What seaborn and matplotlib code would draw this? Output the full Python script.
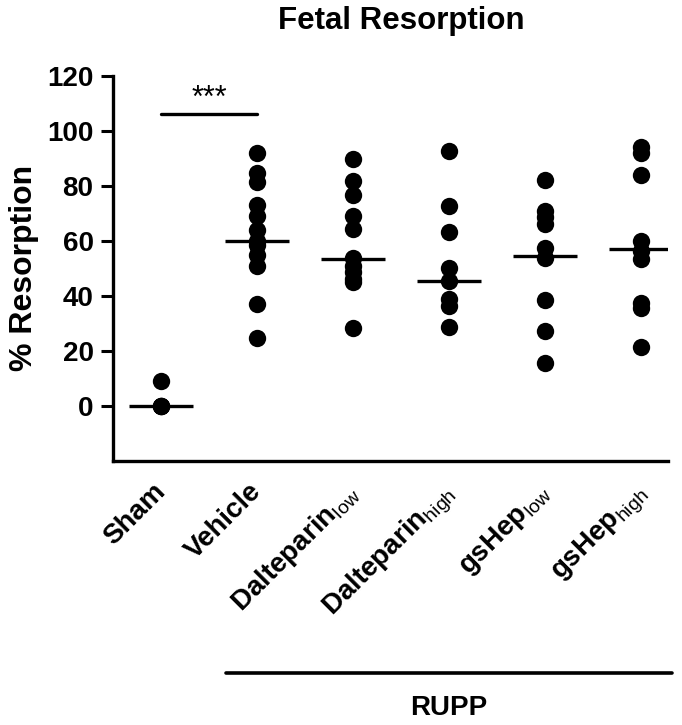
import matplotlib
matplotlib.use("Agg")
import matplotlib.pyplot as plt
import matplotlib.transforms as mtransforms
import seaborn as sns
import pandas as pd
import numpy as np

# ---- data ----
groups = ["Sham", "Vehicle", "Dalteparin_low", "Dalteparin_high", "gsHep_low", "gsHep_high"]
tick_labels = ["Sham", "Vehicle",
               r"Dalteparin$_{\mathrm{low}}$", r"Dalteparin$_{\mathrm{high}}$",
               r"gsHep$_{\mathrm{low}}$", r"gsHep$_{\mathrm{high}}$"]
sham = [0, 0, 0, 9.1]
vehicle = [92, 84.5, 81.5, 73, 69, 64, 60, 58.5, 55, 51, 37.2, 24.8]
dalt_low = [89.7, 81.6, 76.8, 69.1, 64.3, 53.8, 51, 48.5, 46, 45, 28.4]
dalt_high = [92.8, 72.5, 63.2, 50.2, 45.3, 38.7, 36.3, 28.6]
gshep_low = [82.2, 71, 68.5, 66, 57.4, 53.8, 38.4, 27.2, 15.5]
gshep_high = [94.1, 91.9, 84.0, 59.8, 56.2, 53.4, 37.5, 35.7, 21.5]
medians = [0, 60.1, 53.5, 45.5, 54.4, 56.9]
sig_value = 106
sig_text = "***"

values = [sham, vehicle, dalt_low, dalt_high, gshep_low, gshep_high]
df = pd.DataFrame({
    "group": np.concatenate([[g] * len(v) for g, v in zip(groups, values)]),
    "value": np.concatenate(values),
})

sns.set_style("ticks")
plt.rcParams["font.family"] = ["Liberation Sans", "DejaVu Sans"]
plt.rcParams["mathtext.fontset"] = "custom"
plt.rcParams["mathtext.rm"] = "Liberation Sans"
plt.rcParams["mathtext.bf"] = "Liberation Sans:bold"
for k in ["text.color", "axes.labelcolor", "xtick.color", "ytick.color", "axes.edgecolor"]:
    plt.rcParams[k] = "black"

fig = plt.figure(figsize=(6.82, 7.25), dpi=100)
ax = fig.add_axes([0.1657, 0.3641, 0.8138, 0.5315])

sns.stripplot(data=df, x="group", y="value", order=groups, jitter=False,
              color="black", size=12.5, linewidth=0, ax=ax)

for i, m in enumerate(medians):
    ax.hlines(m, i - 0.33, i + 0.33, color="black", lw=2.4, zorder=5)

ax.set_xlim(-0.5, 5.28)
ax.set_ylim(-20, 120)
ax.set_yticks(range(0, 121, 20))
ax.set_xticks(range(len(groups)))
ax.set_xticklabels(tick_labels, rotation=45, ha="right", rotation_mode="anchor",
                   fontsize=20, fontweight="bold")
ax.tick_params(axis="x", length=0, pad=14)
offset = mtransforms.ScaledTranslation(-9 / 100, 2 / 100, fig.dpi_scale_trans)
for lbl in ax.get_xticklabels():
    lbl.set_transform(lbl.get_transform() + offset)
ax.tick_params(axis="y", length=9, width=2.2, pad=5, labelsize=20)
for lbl in ax.get_yticklabels():
    lbl.set_fontweight("bold")
ax.set_xlabel("")
ax.set_ylabel("% Resorption", fontsize=23, fontweight="bold", labelpad=6)
sns.despine(ax=ax)
for s in ["left", "bottom"]:
    ax.spines[s].set_linewidth(2.4)
    ax.spines[s].set_color("black")

# significance bracket
ax.plot([0, 1], [sig_value, sig_value], color="black", lw=2.4, clip_on=False)
ax.text(0.5, sig_value + 5.5, sig_text, ha="center", va="center", fontsize=22)

# RUPP group line
trans = mtransforms.blended_transform_factory(ax.transData, fig.transFigure)
ax.plot([0.68, 5.32], [1 - 673 / 725] * 2, color="black", lw=2.6,
        transform=trans, clip_on=False)
ax.text(3.0, 1 - 708 / 725, "RUPP", transform=trans, ha="center", va="center",
        fontsize=20, fontweight="bold")

fig.suptitle("Fetal Resorption", x=0.588, y=1 - 21 / 725, va="center",
             fontsize=22.5, fontweight="bold")

fig.savefig("out.png", dpi=100)
